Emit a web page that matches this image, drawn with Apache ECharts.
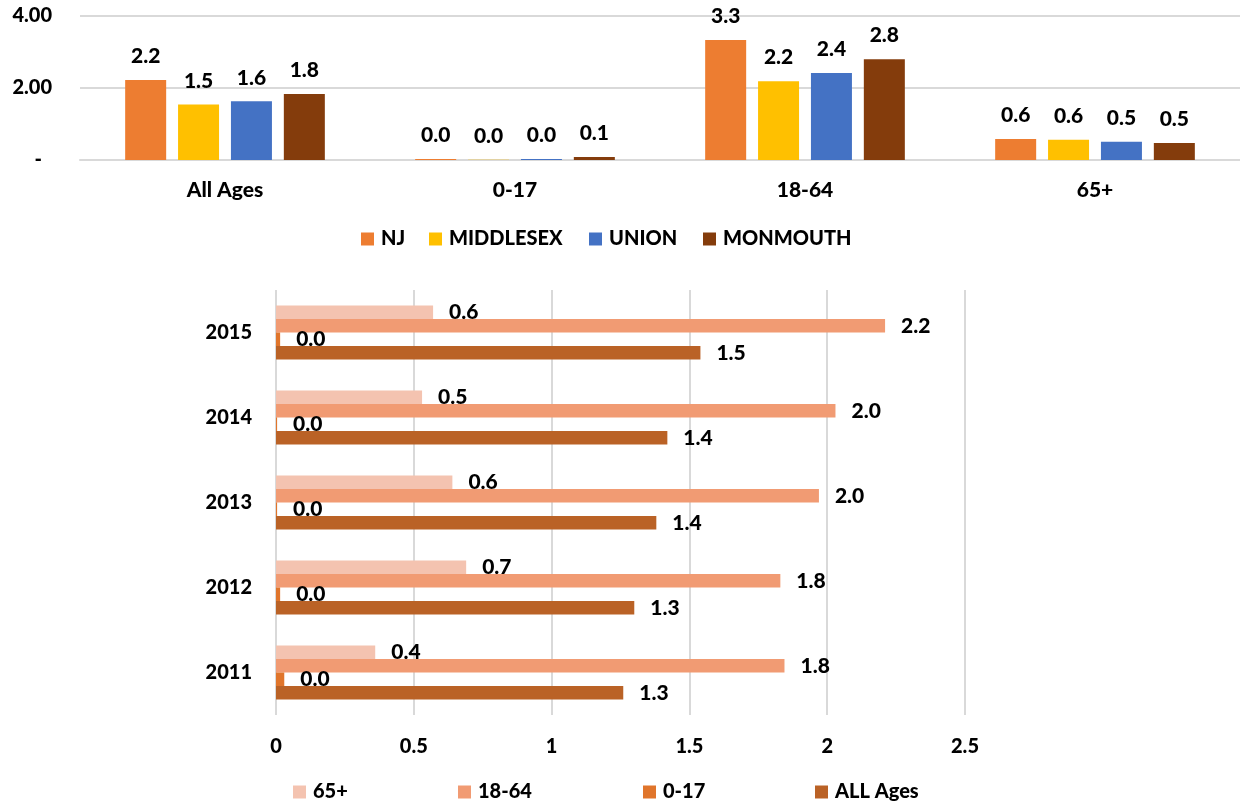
<!DOCTYPE html>
<html><head><meta charset="utf-8">
<script src="https://cdn.jsdelivr.net/npm/echarts@6/dist/echarts.min.js"></script>
<style>html,body{margin:0;padding:0;background:#fff}#c{width:1240px;height:808px}</style>
</head><body><div id="c"></div>
<script>
// Top chart data
const ageGroups = ['All Ages', '0-17', '18-64', '65+'];
const njValues = [2.22, 0.03, 3.33, 0.58];
const middlesexValues = [1.54, 0.005, 2.19, 0.56];
const unionValues = [1.63, 0.03, 2.42, 0.51];
const monmouthValues = [1.83, 0.08, 2.80, 0.47];
const topTickLabels = ['-', '2.00', '4.00'];

// Bottom chart data
const years = ['2011', '2012', '2013', '2014', '2015'];
const age65Values = [0.36, 0.69, 0.64, 0.53, 0.57];
const age1864Values = [1.845, 1.83, 1.97, 2.03, 2.21];
const age017Values = [0.03, 0.015, 0.004, 0.004, 0.015];
const allAgesValues = [1.26, 1.30, 1.38, 1.42, 1.54];

const FONT = 'Lato';
const txt = {color: '#000', fontFamily: FONT, fontWeight: 900, fontSize: 20};
const txtL = {...txt, fontSize: 21};

const chart = echarts.init(document.getElementById('c'), null, {renderer: 'canvas'});

function topSeries(name, data, color) {
  return {
    name, type: 'bar', xAxisIndex: 0, yAxisIndex: 0, data,
    barWidth: 41, barGap: '29%',
    itemStyle: {color},
    label: {show: true, position: 'top', distance: 13, ...txtL, formatter: p => p.value.toFixed(1)}
  };
}
function botSeries(name, data, color) {
  return {
    name, type: 'bar', xAxisIndex: 1, yAxisIndex: 1, data,
    barWidth: 13.5, barGap: '0%',
    itemStyle: {color},
    label: {show: true, position: 'right', distance: 16, ...txtL, formatter: p => p.value.toFixed(1)}
  };
}
function leg(name, left, top) {
  return {data: [name], left, top, padding: 0, itemWidth: 13, itemHeight: 13,
    icon: 'rect', textStyle: {...txt, lineHeight: 20, padding: [0, 0, 0, 2]}};
}

chart.setOption({
  animation: false,
  backgroundColor: '#fff',
  grid: [
    {left: 80, right: 0, top: 16, height: 144},
    {left: 276, width: 689, top: 290, height: 425}
  ],
  legend: [
    leg('NJ', 361, 229), leg('MIDDLESEX', 429, 229), leg('UNION', 589, 229), leg('MONMOUTH', 703, 229),
    leg('65+', 293, 782), leg('18-64', 458, 782), leg('0-17', 643, 782), leg('ALL Ages', 815, 782)
  ],
  xAxis: [
    {type: 'category', gridIndex: 0, data: ageGroups,
      axisLine: {show: true, lineStyle: {color: '#D9D9D9', width: 2}},
      axisTick: {show: false},
      axisLabel: {...txtL, margin: 20}},
    {type: 'value', gridIndex: 1, min: 0, max: 2.5, interval: 0.5,
      axisLine: {show: false}, axisTick: {show: false},
      splitLine: {show: true, lineStyle: {color: '#D9D9D9', width: 2}},
      axisLabel: {...txt, margin: 22}}
  ],
  yAxis: [
    {type: 'value', gridIndex: 0, min: 0, max: 4, interval: 2,
      axisLine: {show: false}, axisTick: {show: false},
      splitLine: {show: true, lineStyle: {color: '#D9D9D9', width: 2}},
      axisLabel: {margin: 28, formatter: (v, i) => v === 0 ? '{d|' + topTickLabels[i] + '}' : topTickLabels[i], ...txt,
        rich: {d: {...txt, padding: [0, 10, 0, 0]}}}},
    {type: 'category', gridIndex: 1, data: years,
      axisLine: {show: false}, axisTick: {show: false},
      axisLabel: {...txt, margin: 24}}
  ],
  series: [
    topSeries('NJ', njValues, '#ED7D31'),
    topSeries('MIDDLESEX', middlesexValues, '#FFC000'),
    topSeries('UNION', unionValues, '#4472C4'),
    topSeries('MONMOUTH', monmouthValues, '#843C0C'),
    botSeries('65+', age65Values, '#F4C3B0'),
    botSeries('18-64', age1864Values, '#F19B73'),
    botSeries('0-17', age017Values, '#E0752B'),
    botSeries('ALL Ages', allAgesValues, '#BA6226')
  ]
});
</script>
</body></html>
